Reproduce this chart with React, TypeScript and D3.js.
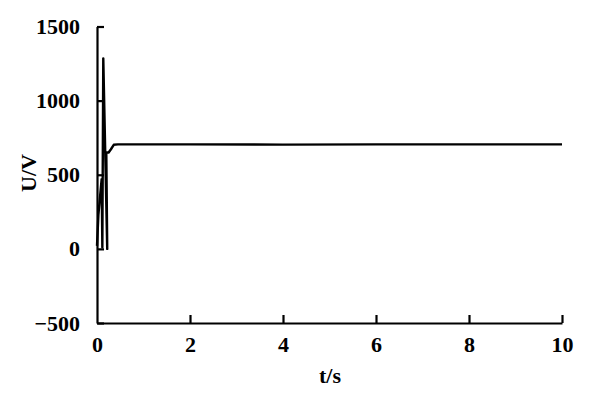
import React, { useEffect, useRef } from "react";
import * as d3 from "d3";

const timeValues = [0, 0.03, 0.1, 0.115, 0.135, 0.22, 0.2, 0.25, 0.3, 0.36, 0.45, 1, 2, 4, 6, 8, 10];
const voltageValues = [20, 230, 470, 10, 1285, 0, 650, 650, 672, 702, 705, 705, 705, 703, 705, 705, 705];
const xTicks = [0, 2, 4, 6, 8, 10];
const yTicks = [-500, 0, 500, 1000, 1500];
const xLabel = "t/s";
const yLabel = "U/V";

export default function App() {
  const ref = useRef<SVGSVGElement>(null);
  useEffect(() => {
    const svg = d3.select(ref.current);
    svg.selectAll("*").remove();
    const x = d3.scaleLinear().domain([0, 10]).range([97, 562]);
    const y = d3.scaleLinear().domain([-500, 1500]).range([323, 26.5]);
    const font = "'Liberation Serif', serif";
    const fs = 22;

    const g = svg.append("g");
    const data = timeValues.map((t, i) => [t, voltageValues[i]] as [number, number]);
    const line = d3.line<[number, number]>().x(d => x(d[0])).y(d => y(d[1]));
    g.append("path").attr("d", line(data)).attr("fill", "none").attr("stroke", "#000")
      .attr("stroke-width", 2.4).attr("stroke-linejoin", "round");

    const xAxis = d3.axisBottom(x).tickValues(xTicks).tickSizeInner(-8).tickSizeOuter(0).tickPadding(13)
      .tickFormat(d => String(d));
    const gx = g.append("g").attr("transform", `translate(0,${y(-500)})`).call(xAxis);
    const yAxis = d3.axisLeft(y).tickValues(yTicks).tickSizeInner(-7).tickSizeOuter(0).tickPadding(17)
      .tickFormat(d => (+d < 0 ? "\u2212" + Math.abs(+d) : String(d)));
    const gy = g.append("g").attr("transform", `translate(${x(0)},0)`).call(yAxis);
    [gx, gy].forEach(a => {
      a.select(".domain").attr("stroke", "#000").attr("stroke-width", 2.2);
      a.selectAll(".tick line").attr("stroke", "#000").attr("stroke-width", 2.2);
      a.selectAll(".tick text").attr("fill", "#000").attr("font-family", font)
        .attr("font-weight", "bold").attr("font-size", fs);
    });
    gx.selectAll(".tick").filter((d: any) => d === 0).select("line").remove();

    g.append("text").attr("x", 330).attr("y", 383).attr("text-anchor", "middle")
      .attr("font-family", font).attr("font-weight", "bold").attr("font-size", fs).text(xLabel);
    g.append("text").attr("transform", `translate(36,173) rotate(-90)`).attr("text-anchor", "middle")
      .attr("font-family", font).attr("font-weight", "bold").attr("font-size", fs).text(yLabel);
  }, []);
  return (
    <svg ref={ref} width={600} height={400} style={{ position: "absolute", left: 0, top: 0, background: "#fff" }} />
  );
}
